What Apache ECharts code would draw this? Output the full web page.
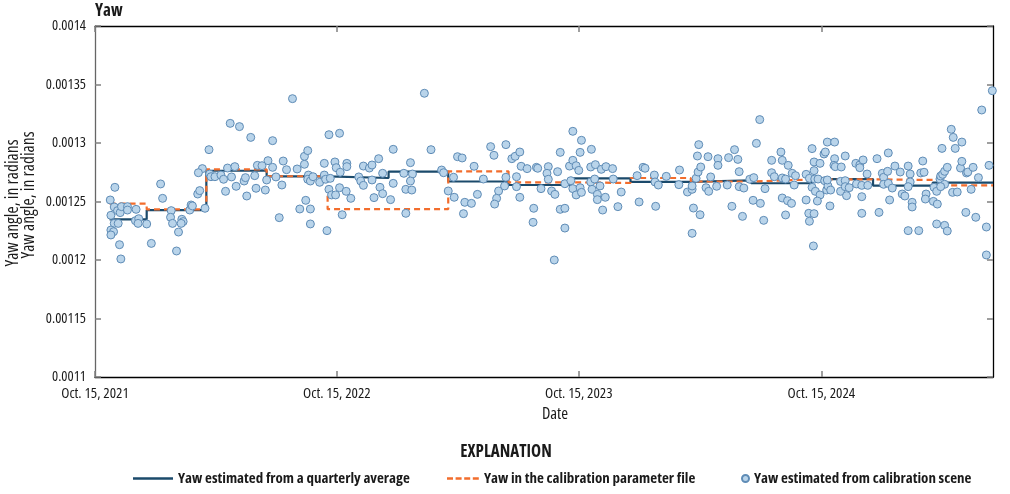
<!DOCTYPE html>
<html>
<head>
<meta charset="utf-8">
<script src="https://cdn.jsdelivr.net/npm/echarts@6/dist/echarts.min.js"></script>
<style>
html,body{margin:0;padding:0;background:#fff;}
#chart{width:1010px;height:494px;}
</style>
</head>
<body>
<div id="chart"></div>
<script>
// ---- DATA ----
const startDate = '2021-10-15';
const endDate = '2025-07-01';
const tickDates = ['2021-10-15', '2022-10-15', '2023-10-15', '2024-10-15'];
const tickLabels = ['Oct. 15, 2021', 'Oct. 15, 2022', 'Oct. 15, 2023', 'Oct. 15, 2024'];

// Quarterly step lines (value holds from the date until the next date)
const stepDates = ['2021-11-06','2022-01-01','2022-04-01','2022-07-01','2022-10-01','2023-01-01','2023-04-01','2023-07-01','2023-10-01','2024-01-01','2024-04-01','2024-07-01','2024-10-01','2025-01-01','2025-04-01','2025-07-01'];
const quarterlyYaw = [0.0012348,0.0012427,0.0012763,0.0012714,0.0012701,0.0012756,0.0012671,0.0012641,0.0012698,0.0012667,0.0012680,0.0012656,0.0012692,0.0012635,0.0012661,0.0012661];
const calibYaw = [0.0012481,0.0012433,0.0012775,0.0012716,0.0012434,0.0012434,0.0012758,0.0012664,0.0012658,0.0012701,0.0012671,0.0012688,0.0012690,0.0012684,0.0012638,0.0012638];

// Calibration scene estimates: days after startDate, and yaw (radians)
const sceneDays = [
204,218,235,172,261,162,156,200,211,245,252,30,99,102,23,29,34,38,40,49,49,62,24,29,35,61,66,65,78,24,28,24,37,39,85,115,114,117,131,133,130,126,123,143,145,147,155,158,166,173,175,181,190,194,206,197,213,225,227,229,241,243,257,259,
268,298,497,268,273,282,284,289,305,316,316,321,322,321,325,329,318,309,325,325,278,339,346,346,348,353,369,355,353,357,363,350,362,364,370,369,379,386,373,380,380,398,405,414,418,428,401,405,418,430,421,434,434,446,450,450,466,476,479,476,469,478,469,507,523,526,
533,541,542,547,554,558,568,556,572,577,586,597,602,609,606,603,620,620,618,629,634,641,636,636,641,643,652,666,668,662,661,673,684,682,684,689,694,698,702,702,709,709,693,709,716,721,721,726,730,718,721,726,732,734,734,732,749,748,755,748,754,750,758,758,762,764,771,781,770,766,782,789,
794,818,821,827,830,844,845,850,846,862,881,882,894,901,901,907,903,913,901,909,911,910,914,922,926,925,929,940,940,938,954,956,965,970,972,961,972,979,977,988,994,993,1004,1003,998,1011,1009,1021,1021,1025,1035,1037,1037,1042,1046,1052,1057,1055,1037,1045,1051,1042,
1073,1078,1073,1077,1085,1078,1084,1082,1085,1085,1094,1086,1091,1082,1087,1094,1090,1100,1102,1105,1116,1101,1104,1106,1110,1105,1109,1116,1115,1117,1126,1125,1125,1132,1132,1132,1138,1134,1148,1154,1159,1154,1149,1157,1157,1157,1165,1166,1180,1183,1188,1190,1190,1196,1197,1197,1203,1199,1207,1215,1218,1222,1227,1230,1230,1227,1233,1233,1227,1243,1249,1246,1251,1254,1253,1266,1270,1265,1271,1270,1275,1276,1279,1282,1286,1278,1282,1276,1282,1286,1292,1295,1298,1308,1294,1301,1306,1308,1315,1317,1325,1322,1314,1329,1333,1345,1345,1338,1349,1354
];
const sceneYaw = [
0.0013168,0.0013140,0.0013048,0.0012943,0.0012849,0.0012781,0.0012746,0.0012786,0.0012798,0.0012809,0.0012806,0.0012621,0.0012650,0.0012527,0.0012513,0.0012453,0.0012422,0.0012405,0.0012456,0.0012456,0.0012427,0.0012433,0.0012382,0.0012313,0.0012313,0.0012336,0.0012353,0.0012313,0.0012308,0.0012256,0.0012242,0.0012214,0.0012131,0.0012009,0.0012142,0.0012422,0.0012365,0.0012313,0.0012348,0.0012328,0.0012313,0.0012239,0.0012077,0.0012427,0.0012470,0.0012462,0.0012564,0.0012593,0.0012442,0.0012735,0.0012712,0.0012712,0.0012726,0.0012690,0.0012710,0.0012587,0.0012630,0.0012675,0.0012704,0.0012547,0.0012721,0.0012613,0.0012598,0.0012684,
0.0013020,0.0013379,0.0013425,0.0012792,0.0012710,0.0012641,0.0012846,0.0012772,0.0012778,0.0012818,0.0012886,0.0012935,0.0012726,0.0012690,0.0012675,0.0012712,0.0012510,0.0012436,0.0012436,0.0012308,0.0012362,0.0012664,0.0012826,0.0012726,0.0012690,0.0013071,0.0013083,0.0012698,0.0012604,0.0012556,0.0012556,0.0012251,0.0012838,0.0012789,0.0012750,0.0012618,0.0012587,0.0012527,0.0012387,0.0012826,0.0012798,0.0012710,0.0012803,0.0012786,0.0012812,0.0012866,0.0012675,0.0012638,0.0012684,0.0012621,0.0012533,0.0012567,0.0012741,0.0012516,0.0012946,0.0012655,0.0012741,0.0012832,0.0012735,0.0012675,0.0012604,0.0012598,0.0012399,0.0012943,0.0012769,0.0012746,
0.0012590,0.0012707,0.0012536,0.0012883,0.0012872,0.0012493,0.0012484,0.0012396,0.0012801,0.0012561,0.0012692,0.0012969,0.0012895,0.0012590,0.0012527,0.0012478,0.0012986,0.0012707,0.0012633,0.0012866,0.0012886,0.0012923,0.0012712,0.0012627,0.0012536,0.0012801,0.0012781,0.0012792,0.0012784,0.0012442,0.0012322,0.0012610,0.0012798,0.0012741,0.0012690,0.0012590,0.0012561,0.0012755,0.0012920,0.0012433,0.0012442,0.0012273,0.0012000,0.0012652,0.0012803,0.0013100,0.0012852,0.0012806,0.0012766,0.0012678,0.0012610,0.0012556,0.0012618,0.0012578,0.0013023,0.0012920,0.0012946,0.0012795,0.0012815,0.0012667,0.0012692,0.0012604,0.0012561,0.0012516,0.0012633,0.0012775,0.0012798,0.0012781,0.0012536,0.0012427,0.0012692,0.0012456,
0.0012581,0.0012721,0.0012496,0.0012792,0.0012784,0.0012726,0.0012667,0.0012641,0.0012459,0.0012715,0.0012644,0.0012769,0.0012581,0.0012604,0.0012633,0.0012698,0.0012444,0.0012387,0.0012228,0.0012889,0.0012986,0.0012752,0.0012795,0.0012618,0.0012587,0.0012883,0.0012710,0.0012866,0.0012809,0.0012630,0.0012641,0.0012875,0.0012943,0.0012860,0.0012755,0.0012459,0.0012627,0.0012615,0.0012373,0.0012690,0.0012704,0.0012510,0.0012484,0.0013200,0.0012997,0.0012610,0.0012339,0.0012852,0.0012746,0.0012712,0.0012923,0.0012852,0.0012701,0.0012692,0.0012809,0.0012741,0.0012721,0.0012641,0.0012530,0.0012507,0.0012484,0.0012385,
0.0012732,0.0012698,0.0012513,0.0012399,0.0012396,0.0012331,0.0012120,0.0012952,0.0012838,0.0012764,0.0012826,0.0012692,0.0012692,0.0012621,0.0012587,0.0012556,0.0012504,0.0012906,0.0012923,0.0013008,0.0013008,0.0012678,0.0012598,0.0012633,0.0012598,0.0012684,0.0012462,0.0012866,0.0012809,0.0012798,0.0012795,0.0012672,0.0012587,0.0012889,0.0012678,0.0012627,0.0012618,0.0012550,0.0012826,0.0012812,0.0012855,0.0012789,0.0012650,0.0012638,0.0012541,0.0012399,0.0012735,0.0012638,0.0012866,0.0012407,0.0012741,0.0012707,0.0012647,0.0012758,0.0012915,0.0012655,0.0012615,0.0012513,0.0012803,0.0012752,0.0012564,0.0012547,0.0012803,0.0012735,0.0012667,0.0012627,0.0012493,0.0012453,0.0012251,0.0012251,0.0012846,0.0012744,0.0012750,0.0012564,0.0012521,0.0012621,0.0012587,0.0012501,0.0012478,0.0012308,0.0012692,0.0012718,0.0012732,0.0012758,0.0012792,0.0012954,0.0012647,0.0012627,0.0012296,0.0012248,0.0013117,0.0013048,0.0012954,0.0013008,0.0012578,0.0012581,0.0012786,0.0012843,0.0012744,0.0012752,0.0012792,0.0012604,0.0012407,0.0012365,0.0012704,0.0012282,0.0012043,0.0013282,0.0012809,0.0013447
];

// ---- BUILD ----
const DAY = 86400000;
const ts = s => new Date(s + 'T00:00:00').getTime();
const t0 = ts(startDate);
const nPts = Math.min(sceneDays.length, sceneYaw.length);
const sceneData = [];
for (let i = 0; i < nPts; i++) sceneData.push([t0 + sceneDays[i] * DAY, sceneYaw[i]]);
const quarterlyData = stepDates.map((d, i) => [ts(d), quarterlyYaw[i]]);
const calibData = stepDates.map((d, i) => [ts(d), calibYaw[i]]);
const tickTs = tickDates.map(ts);

const FONT = "'Open Sans', 'DejaVu Sans Condensed', sans-serif";
const WN = 'normal condensed', WB = 'bold condensed';
const NAVY = '#1b4a6b', ORANGE = '#f26d2d', PT_FILL = '#b9d4ea', PT_EDGE = '#5f8cb6';
const TICKC = '#808080', TXT = '#1a1a1a';

const chart = echarts.init(document.getElementById('chart'), null, {renderer: 'canvas'});
const fmtY = v => String(parseFloat(v.toFixed(6)));
const fmtX = v => { const i = tickTs.indexOf(v); return i >= 0 ? tickLabels[i] : ''; };

const xCommon = {type: 'value', min: ts(startDate), max: ts(endDate), scale: true, splitLine: {show: false}};
const yCommon = {type: 'value', min: 0.0011, max: 0.0014, interval: 0.00005, splitLine: {show: false}};
const legendText = {fontFamily: FONT, fontWeight: WB, fontSize: 15, color: TXT};

chart.setOption({
  animation: false,
  backgroundColor: '#fff',
  textStyle: {fontFamily: FONT},
  title: {
    text: 'Yaw', left: 95, top: 3, padding: 0,
    textStyle: {fontFamily: FONT, fontWeight: WB, fontSize: 17, color: TXT}
  },
  grid: {left: 95, right: 17, top: 26, bottom: 117, containLabel: false},
  xAxis: [
    Object.assign({}, xCommon, {
      position: 'bottom',
      axisLine: {show: true, lineStyle: {color: '#000', width: 1.3}},
      axisTick: {show: true, inside: true, length: 6, customValues: tickTs, lineStyle: {color: TICKC, width: 1.5}},
      axisLabel: {show: true, customValues: tickTs, margin: 9, color: TXT, fontSize: 15, fontWeight: WN, fontFamily: FONT, formatter: fmtX}
    }),
    Object.assign({}, xCommon, {
      position: 'top',
      axisLine: {show: true, lineStyle: {color: '#000', width: 1.3}},
      axisTick: {show: true, inside: true, length: 6, customValues: tickTs, lineStyle: {color: TICKC, width: 1.5}},
      axisLabel: {show: false}
    })
  ],
  yAxis: [
    Object.assign({}, yCommon, {
      position: 'left',
      axisLine: {show: true, lineStyle: {color: '#666', width: 1.3}},
      axisTick: {show: true, inside: true, length: 6, lineStyle: {color: TICKC, width: 1.5}},
      axisLabel: {show: true, margin: 9, color: TXT, fontSize: 14.5, fontWeight: WN, fontFamily: FONT, formatter: fmtY}
    }),
    Object.assign({}, yCommon, {
      position: 'right',
      axisLine: {show: true, lineStyle: {color: '#000', width: 1.3}},
      axisTick: {show: true, inside: true, length: 6, lineStyle: {color: TICKC, width: 1.5}},
      axisLabel: {show: false}
    })
  ],
  legend: [
    {
      left: 133, top: 471, padding: 0, itemWidth: 40, itemHeight: 2.5, itemGap: 0,
      data: [{name: 'Yaw estimated from a quarterly average', icon: 'path://M0,0H40V2.5H0Z'}],
      textStyle: legendText
    },
    {
      left: 447, top: 471, padding: 0, itemWidth: 32, itemHeight: 2.5, itemGap: 0,
      data: [{name: 'Yaw in the calibration parameter file', icon: 'path://M0,0h6v2.5h-6z M8.6,0h6v2.5h-6z M17.2,0h6v2.5h-6z M25.8,0h6v2.5h-6z'}],
      textStyle: legendText
    },
    {
      left: 741, top: 471, padding: 0, itemWidth: 7, itemHeight: 7, itemGap: 0,
      data: [{name: 'Yaw estimated from calibration scene', icon: 'circle'}],
      textStyle: legendText
    }
  ],
  graphic: [
    {type: 'text', x: 13, y: 203, rotation: Math.PI / 2,
     style: {text: 'Yaw angle, in radians', fontFamily: FONT, fontWeight: WN, fontSize: 17.5, fill: TXT, align: 'center', verticalAlign: 'middle'}},
    {type: 'text', x: 29, y: 195, rotation: Math.PI / 2,
     style: {text: 'Yaw angle, in radians', fontFamily: FONT, fontWeight: WN, fontSize: 17.5, fill: TXT, align: 'center', verticalAlign: 'middle'}},
    {type: 'text', x: 555, y: 414,
     style: {text: 'Date', fontFamily: FONT, fontWeight: WN, fontSize: 16.5, fill: TXT, align: 'center', verticalAlign: 'middle'}},
    {type: 'text', x: 506, y: 452,
     style: {text: 'EXPLANATION', fontFamily: FONT, fontWeight: WB, fontSize: 17, fill: TXT, align: 'center', verticalAlign: 'middle'}}
  ],
  series: [
    {
      name: 'Yaw estimated from a quarterly average', type: 'line', step: 'end',
      data: quarterlyData, symbol: 'none', xAxisIndex: 0, yAxisIndex: 0,
      lineStyle: {color: NAVY, width: 2.2}, itemStyle: {color: NAVY}, z: 3
    },
    {
      name: 'Yaw in the calibration parameter file', type: 'line', step: 'end',
      data: calibData, symbol: 'none', xAxisIndex: 0, yAxisIndex: 0,
      lineStyle: {color: ORANGE, width: 2.2, type: [6, 4]}, itemStyle: {color: ORANGE}, z: 4
    },
    {
      name: 'Yaw estimated from calibration scene', type: 'scatter',
      data: sceneData, symbol: 'circle', symbolSize: 8, xAxisIndex: 0, yAxisIndex: 0,
      itemStyle: {color: PT_FILL, borderColor: PT_EDGE, borderWidth: 1, opacity: 1}, z: 5
    }
  ]
});
</script>
</body>
</html>
